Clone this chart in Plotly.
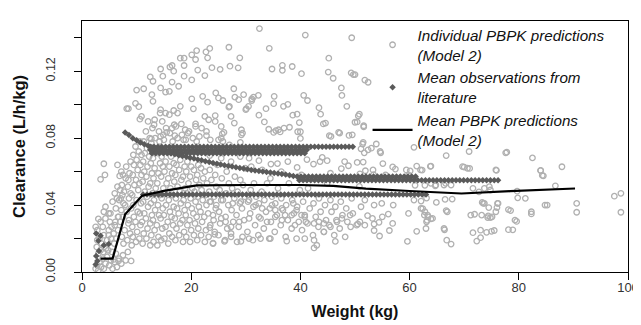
import plotly.graph_objects as go

# ---------------- Individual PBPK predictions (Model 2): (weight kg, clearance L/h/kg)
indiv_left = [(2.5,0.002),(2.8,0.004),(3.0,0.001),(3.2,0.006),(3.5,0.003),(3.8,0.008),(4.0,0.002),(4.3,0.005),
 (4.6,0.009),(5.0,0.004),(5.3,0.007),(5.6,0.002),(6.0,0.006),(6.4,0.003),(6.8,0.008),(7.2,0.005),(3.0,0.011),
 (3.4,0.013),(3.9,0.012),(4.4,0.014),(2.7,0.015),(3.6,0.017),(4.8,0.013),(5.5,0.012),(6.2,0.011),(7.5,0.010),
 (8.4,0.012),(9.0,0.0066),(8.0,0.007),(3.2,0.020),(4.0,0.022),(4.6,0.019),(5.3,0.020),(2.8,0.025),(3.8,0.027),
 (4.9,0.025),(5.8,0.023),(6.3,0.020),(3.4,0.030),(4.3,0.032),(5.1,0.030),(6.0,0.028),(6.6,0.033),(7.0,0.030),
 (4.0,0.036),(5.2,0.035),(6.2,0.038),(7.2,0.037),(4.3,0.039),(5.6,0.042),(6.8,0.043),(7.6,0.041),(4.0,0.0647),
 (6.5,0.064),(3.4,0.0554),(4.2,0.058),(6.9,0.0574),(7.5,0.058),(4.9,0.035),(3.0,0.0317),(2.5,0.027),(6.1,0.030),
 (6.7,0.033),(2.8,0.019),(4.9,0.022),(6.7,0.0066),(5.8,0.0075),(6.0,0.047),(6.5,0.051),(7.0,0.049),
 (5.9,0.017),(6.6,0.025),(7.3,0.021),(5.4,0.027),(6.4,0.044),(7.4,0.046)]

indiv_dense = [
 (7.1,0.044),(7.3,0.052),(7.2,0.060),(7.6,0.017),(7.8,0.025),(7.5,0.033),(7.9,0.040),(7.7,0.048),(8.0,0.056),
 (8.1,0.063),(8.3,0.019),(8.5,0.029),(8.2,0.036),(8.6,0.044),(8.4,0.051),(8.7,0.059),(8.9,0.066),(8.8,0.023),
 (8.6,0.031),(9.0,0.038),(8.9,0.047),(8.5,0.055),
 (9.1,0.016),(9.3,0.021),(9.2,0.027),(9.5,0.033),(9.4,0.040),(9.2,0.046),(9.6,0.052),(9.3,0.058),(9.5,0.064),
 (9.4,0.070),(9.8,0.075),(9.9,0.018),(10.1,0.024),(9.8,0.030),(10.2,0.036),(10.0,0.043),(10.3,0.049),(9.9,0.055),
 (10.2,0.061),(10.0,0.067),(10.4,0.072),(10.6,0.078),(10.5,0.020),(10.7,0.028),(10.6,0.035),(10.8,0.041),
 (10.5,0.053),(10.9,0.058),(10.7,0.064),(10.9,0.070),
 (11.1,0.017),(11.3,0.023),(11.0,0.030),(11.4,0.035),(11.2,0.042),(11.5,0.048),(11.1,0.054),(11.4,0.060),
 (11.2,0.066),(11.5,0.071),(11.3,0.078),(11.7,0.084),(11.8,0.020),(12.0,0.026),(11.7,0.032),(12.1,0.039),
 (11.9,0.045),(12.2,0.051),(11.8,0.057),(12.0,0.063),(12.3,0.069),(11.9,0.074),(12.4,0.080),(12.5,0.016),
 (12.7,0.022),(12.5,0.029),(12.8,0.034),(12.6,0.041),(12.9,0.047),(12.5,0.053),(12.8,0.059),(12.6,0.065),
 (12.9,0.072),(12.7,0.077),(12.9,0.086),
 (13.1,0.018),(13.3,0.025),(13.0,0.031),(13.4,0.037),(13.2,0.043),(13.5,0.050),(13.1,0.056),(13.3,0.062),
 (13.0,0.068),(13.4,0.080),(13.2,0.088),(13.8,0.016),(14.0,0.021),(13.7,0.028),(14.1,0.034),(13.9,0.040),
 (14.2,0.046),(13.8,0.053),(14.0,0.059),(14.3,0.065),(13.9,0.071),(14.2,0.078),(14.1,0.084),(14.5,0.019),
 (14.7,0.026),(14.4,0.032),(14.8,0.038),(14.6,0.044),(14.9,0.050),(14.5,0.057),(14.8,0.063),(14.6,0.069),
 (14.9,0.082),(14.7,0.090),
 (15.1,0.020),(15.3,0.027),(15.0,0.034),(15.4,0.040),(15.2,0.047),(15.5,0.053),(15.1,0.060),(15.3,0.066),
 (15.0,0.079),(15.4,0.086),(15.8,0.017),(16.0,0.023),(15.7,0.030),(16.1,0.036),(15.9,0.043),(16.2,0.050),
 (15.8,0.056),(16.0,0.063),(16.3,0.069),(16.1,0.083),(16.5,0.021),(16.7,0.028),(16.4,0.033),(16.8,0.039),
 (16.6,0.046),(16.9,0.054),(16.5,0.059),(16.8,0.065),(16.6,0.078),(16.9,0.088),
 (17.1,0.019),(17.3,0.026),(17.0,0.032),(17.4,0.038),(17.2,0.044),(17.5,0.051),(17.1,0.058),(17.3,0.064),
 (17.5,0.080),(17.2,0.087),(17.8,0.022),(18.0,0.029),(17.7,0.035),(18.1,0.041),(17.9,0.048),(18.2,0.055),
 (17.8,0.061),(18.0,0.067),(18.3,0.082),(18.5,0.018),(18.7,0.024),(18.4,0.031),(18.8,0.037),(18.6,0.043),
 (18.9,0.050),(18.5,0.057),(18.8,0.063),(18.6,0.079),(18.9,0.085),
 (19.1,0.021),(19.3,0.028),(19.0,0.034),(19.4,0.040),(19.2,0.047),(19.5,0.053),(19.1,0.060),(19.3,0.066),
 (19.4,0.083),(19.8,0.018),(20.0,0.025),(19.7,0.031),(20.1,0.038),(19.9,0.044),(20.2,0.050),(19.8,0.057),
 (20.0,0.063),(20.3,0.080),(20.5,0.022),(20.7,0.029),(20.4,0.035),(20.8,0.042),(20.6,0.048),(20.9,0.055),
 (20.5,0.061),(20.8,0.087),
 (21.1,0.019),(21.3,0.026),(21.0,0.033),(21.4,0.039),(21.2,0.045),(21.5,0.052),(21.1,0.058),(21.3,0.064),
 (21.5,0.081),(21.8,0.022),(22.0,0.030),(21.7,0.036),(22.1,0.043),(21.9,0.049),(22.2,0.056),(21.8,0.062),
 (22.5,0.018),(22.7,0.025),(22.4,0.033),(22.8,0.040),(22.6,0.046),(22.9,0.053),(22.5,0.060),(22.8,0.084),
 (23.2,0.021),(23.5,0.028),(23.1,0.035),(23.6,0.042),(23.3,0.048),(23.7,0.055),(23.4,0.061),(24.0,0.017),
 (24.3,0.024),(24.1,0.031),(24.5,0.038),(24.2,0.045),(24.6,0.051),(24.4,0.058),(24.8,0.064),(25.0,0.022),
 (25.3,0.029),(25.1,0.036),(25.5,0.043),(25.2,0.049),(25.6,0.056),(25.8,0.078),(24.7,0.072),
 (26.2,0.019),(26.6,0.026),(26.3,0.033),(26.8,0.040),(26.4,0.047),(26.9,0.053),(26.5,0.060),(27.3,0.023),
 (27.7,0.030),(27.4,0.037),(27.9,0.044),(27.5,0.050),(28.0,0.057),(28.4,0.018),(28.7,0.027),(28.3,0.034),
 (28.9,0.041),(28.5,0.048),(29.0,0.055),(29.4,0.021),(29.7,0.031),(29.3,0.038),(29.8,0.045),(29.5,0.052),
 (29.9,0.062),
 (30.3,0.024),(30.8,0.035),(30.4,0.042),(30.9,0.049),(31.3,0.019),(31.7,0.028),(31.4,0.039),(31.9,0.045),
 (31.5,0.053),(32.3,0.022),(32.7,0.032),(32.4,0.041),(32.9,0.048),(33.3,0.026),(33.7,0.036),(33.4,0.043),
 (33.9,0.053),(34.3,0.020),(34.6,0.030),(34.4,0.038),(34.8,0.045),(34.5,0.056),
 (35.3,0.024),(35.7,0.034),(35.4,0.041),(35.9,0.050),(36.4,0.028),(36.8,0.037),(36.5,0.044),(37.3,0.021),
 (37.7,0.031),(37.4,0.040),(37.9,0.053),(38.4,0.026),(38.8,0.035),(38.5,0.043),(39.3,0.020),(39.7,0.030),
 (39.4,0.039),(39.9,0.049),
 (40.3,0.025),(40.8,0.034),(40.5,0.042),(41.3,0.029),(41.7,0.038),(41.4,0.050),(42.3,0.022),(42.8,0.033),
 (42.4,0.041),(43.0,0.016),(43.3,0.027),(43.7,0.036),(43.4,0.044),(44.3,0.024),(44.7,0.031),(44.5,0.040),
 (44.9,0.053),(45.3,0.028),(45.7,0.036),(45.5,0.043),(46.2,0.022),(46.6,0.031),(46.4,0.039),(47.2,0.026),
 (47.7,0.034),(47.4,0.042),(48.2,0.021),(48.6,0.030),(48.4,0.038),(49.2,0.027),(49.6,0.035),(49.4,0.044)]

indiv_mid = [
 (23.4,0.0696),(25.5,0.068),(27.3,0.066),(29.0,0.069),(30.6,0.068),(32.4,0.0665),(34.6,0.0645),(35.8,0.0648),
 (37.7,0.066),(39.4,0.0625),(41.2,0.0672),(42.4,0.0645),(43.6,0.066),(44.0,0.0685),(44.9,0.0665),(47.5,0.0618),
 (48.1,0.066),(48.8,0.0635),(50.4,0.0655),(51.9,0.0605),(31.0,0.063),(33.0,0.061),(36.5,0.060),(40.2,0.058),
 (45.5,0.059),
 (23.4,0.042),(24.6,0.040),(25.8,0.043),(27.6,0.041),(29.1,0.042),(30.6,0.043),(31.8,0.040),(33.0,0.038),
 (34.8,0.040),(35.4,0.037),(36.6,0.038),(37.2,0.034),(38.7,0.041),(39.3,0.037),(40.2,0.034),(41.0,0.030),
 (42.5,0.029),(43.4,0.030),(44.3,0.029),(45.5,0.027),(46.7,0.030),(47.6,0.032),(49.1,0.034),(50.9,0.030),
 (50.3,0.028),(24.0,0.034),(25.5,0.032),(26.3,0.030),(27.3,0.027),(28.8,0.030),(30.6,0.032),(32.4,0.033),
 (33.9,0.030),(35.4,0.033),(36.6,0.031),(38.4,0.034),(39.0,0.028),(40.8,0.033),(23.4,0.0265),(24.3,0.0225),
 (24.0,0.0173),(26.1,0.0183),(27.3,0.021),(29.1,0.0183),(30.6,0.020),(32.7,0.020),(34.5,0.020),(37.5,0.0185),
 (40.8,0.020),(42.5,0.019),(42.5,0.0144),(46.4,0.0183),(44.3,0.024)]

indiv_upper = [
 (8.5,0.0976),(9.8,0.1008),(10.4,0.0988),(10.0,0.1087),(11.3,0.1095),(12.5,0.1166),(13.0,0.114),(14.4,0.1213),
 (14.8,0.117),(14.4,0.110),(15.3,0.1075),(16.0,0.108),(16.5,0.1234),(16.1,0.1225),(16.8,0.120),(16.5,0.1135),
 (17.7,0.111),(18.0,0.1278),(18.7,0.1278),(18.7,0.1234),(18.7,0.117),(20.1,0.1298),(21.0,0.1323),(20.8,0.127),
 (20.1,0.1148),(21.2,0.1207),(22.7,0.1315),(23.4,0.1336),(23.0,0.128),(22.5,0.1174),(23.8,0.1221),(25.3,0.1211),
 (26.9,0.1343),(28.9,0.128),(27.1,0.123),(28.6,0.122),(12.8,0.106),(13.0,0.102),(14.4,0.097),(15.3,0.095),
 (16.8,0.0965),(18.0,0.099),(20.1,0.1035),(20.4,0.0975),(22.1,0.105),(23.0,0.1015),(24.5,0.107),(25.0,0.104),
 (25.8,0.1025),(26.9,0.0985),(28.0,0.1045),(28.7,0.103),(29.6,0.106),(30.0,0.097),(31.1,0.1035),(10.9,0.093),
 (14.3,0.095),(16.0,0.094),(17.5,0.095),(24.4,0.0935),
 (32.5,0.1455),(40.9,0.1416),(49.4,0.140),(34.3,0.1337),(45.2,0.1278),(34.8,0.1213),(36.7,0.1235),(36.7,0.1205),
 (38.5,0.1228),(40.2,0.1185),(45.1,0.1195),(46.0,0.1158),(49.3,0.119),(49.7,0.118),(51.8,0.1147),(47.5,0.110),
 (27.8,0.1095),(32.3,0.1056),(31.1,0.1025),(35.2,0.105),(40.6,0.1056),(41.3,0.1025),(36.9,0.099),(30.5,0.099),
 (48.5,0.099),(47.6,0.1055),(52.4,0.1134),(50.0,0.118),(31.4,0.1045),(27.0,0.099),(30.1,0.0976),(33.7,0.0976),
 (35.1,0.1006),(37.7,0.1002),(43.4,0.0982),(27.3,0.093),(32.4,0.0937),(38.6,0.0937),(39.4,0.0943),(43.7,0.0943),
 (50.8,0.0943),(50.4,0.0897),(51.6,0.0867),(25.5,0.087),(27.9,0.089),(29.4,0.083),(33.4,0.0897),(35.1,0.0834),
 (36.0,0.085),(37.0,0.086),(38.0,0.0865),(39.8,0.0893),(40.0,0.0838),(44.6,0.089),(45.6,0.081),(47.2,0.083),
 (48.9,0.0816),(25.5,0.080),(22.8,0.0815),(26.0,0.0834),(40.0,0.0798),(51.4,0.0765),(53.9,0.0765),(54.7,0.0712),
 (51.7,0.0712),(51.1,0.0736),(60.8,0.0745),(23.2,0.091),(24.4,0.090),(22.5,0.093),(44.2,0.0885),(50.0,0.0895),
 (34.2,0.0853),(35.5,0.0845),(36.3,0.0837),(39.5,0.0838),(45.3,0.0815),(47.0,0.0835),(49.5,0.082),(29.2,0.085),
 (29.2,0.082),(25.7,0.0825),(27.0,0.076),(25.0,0.079),(29.0,0.0775),
 (8.2,0.0976),(10.6,0.0913),(12.1,0.090),(13.3,0.091),(12.7,0.0795),(14.4,0.081),(16.5,0.086),(18.2,0.0885),
 (19.6,0.084),(20.8,0.0885),(21.9,0.086),(15.5,0.0835),(17.0,0.0815),(19.0,0.079),(21.0,0.078),(23.5,0.079)]

indiv_right = [
 (50.6,0.0933),(51.6,0.0874),(51.5,0.0775),(52.4,0.073),(53.0,0.074),(54.6,0.072),(66.7,0.0696),(70.9,0.072),
 (77.8,0.0716),(51.5,0.0657),(55.1,0.0648),(56.9,0.0628),(57.4,0.0615),(59.4,0.061),(60.1,0.0604),(62.0,0.061),
 (63.8,0.0631),(69.7,0.063),(70.6,0.062),(75.8,0.061),(53.3,0.061),(50.9,0.0587),(53.4,0.0582),(55.6,0.058),
 (59.8,0.058),(50.8,0.0512),(63.9,0.053),(64.8,0.052),(66.6,0.053),(71.6,0.050),(73.7,0.050),(74.6,0.051),
 (51.8,0.043),(53.5,0.040),(51.1,0.039),(54.9,0.041),(57.0,0.040),(56.1,0.0346),(55.0,0.033),(53.2,0.032),
 (52.3,0.0337),(53.5,0.0287),(51.8,0.028),(50.5,0.0287),(54.4,0.0297),(53.5,0.0248),(54.5,0.0215),(56.3,0.0248),
 (56.9,0.029),(59.8,0.035),(62.1,0.038),(62.7,0.034),(63.4,0.033),(63.1,0.030),(63.9,0.0317),(66.3,0.026),
 (66.9,0.036),(63.0,0.026),(59.6,0.0183),(66.8,0.019),(71.9,0.0345),(73.0,0.025),(73.0,0.0205),(74.4,0.0335),
 (75.1,0.033),(75.8,0.036),(75.5,0.0248),(76.1,0.041),(73.5,0.041),
 (61.3,0.0633),(63.9,0.0633),(62.3,0.0609),(70.0,0.0627),(71.0,0.0619),(75.9,0.0607),(84.0,0.0607),(84.5,0.0575),
 (87.9,0.0629),(61.0,0.0518),(62.8,0.0518),(64.7,0.0515),(66.3,0.052),(67.6,0.052),(72.7,0.0479),(74.8,0.049),
 (79.7,0.0483),(86.7,0.0515),(60.8,0.043),(62.1,0.0424),(63.1,0.0442),(64.9,0.0416),(66.5,0.0434),(67.8,0.0436),
 (73.3,0.0416),(73.7,0.041),(74.5,0.0385),(76.2,0.041),(76.0,0.0385),(78.5,0.0367),(81.2,0.044),(82.3,0.036),
 (85.2,0.040),(90.6,0.041),(90.6,0.0357),(97.5,0.0453),(98.7,0.047),(98.7,0.0357),(62.4,0.0379),(62.8,0.036),
 (63.3,0.034),(64.2,0.032),(63.2,0.0309),(66.7,0.0367),(71.2,0.034),(73.2,0.034),(74.3,0.0325),(74.8,0.0325),
 (79.3,0.031),(61.3,0.0243),(66.4,0.0252),(67.6,0.0167),(71.6,0.0235),(72.3,0.0185),(74.1,0.0237),(75.0,0.0243),
 (78.1,0.0253),(77.6,0.0712),(82.5,0.0682),(84.0,0.0606),(84.3,0.0577),(79.8,0.0443),(78.1,0.0373),(79.6,0.0302),
 (78.9,0.0252),(82.3,0.0347),(84.8,0.040)]

# ---------------- Mean observations from literature
obs_w_long = [12.5,13.2,13.9,14.6,15.3,16.0,16.7,17.4,18.1,18.8,19.5,20.2,20.9,21.6,22.3,23.0,23.7,24.4,25.1,
 25.8,26.5,27.2,27.9,28.6,29.3,30.0,30.7,31.4,32.1,32.8,33.5,34.2,34.9,35.6,36.3,37.0,37.7,38.4,39.1,39.8,40.5,
 41.2,41.9,42.6,43.3,44.0,44.7,45.4,46.1,46.8,47.5,48.2,48.9,49.6]
obs_c_long = 0.0749
obs_w_mid = [12.5,13.2,13.9,14.6,15.3,16.0,16.7,17.4,18.1,18.8,19.5,20.2,20.9,21.6,22.3,23.0,23.7,24.4,25.1,
 25.8,26.5,27.2,27.9,28.6,29.3,30.0,30.7,31.4,32.1,32.8,33.5,34.2,34.9,35.6,36.3,37.0,37.7,38.4,39.1,39.8,40.5,41.2]
obs_c_mid_a = 0.0731
obs_w_mid_b = [12.8,13.5,14.2,14.9,15.6,16.3,17.0,17.7,18.4,19.1,19.8,20.5,21.2,21.9,22.6,23.3,24.0,24.7,25.4,
 26.1,26.8,27.5,28.2,28.9,29.6,30.3,31.0,31.7,32.4,33.1,33.8,34.5,35.2,35.9,36.6,37.3,38.0,38.7,39.4,40.1,40.8]
obs_c_mid_b = 0.0710
obs_w_diag = [7.9,8.6,9.3,10.0,10.7,11.4,12.1,12.8,13.5,14.2,14.9,15.6,16.3,17.0,17.7,18.4,19.1,19.8,20.5,21.2,
 21.9,22.6,23.3,24.0,24.7,25.4,26.1,26.8,27.5,28.2,28.9,29.6,30.3,31.0,31.7,32.4,33.1,33.8,34.5,35.2,35.9,36.6,
 37.3,38.0,38.7]
obs_c_diag = [0.0834,0.0818,0.0800,0.0787,0.0774,0.0764,0.0755,0.0746,0.0738,0.0730,0.0723,0.0716,0.0710,0.0704,
 0.0698,0.0693,0.0688,0.0683,0.0678,0.0673,0.0668,0.0662,0.0657,0.0652,0.0647,0.0642,0.0638,0.0634,0.0630,0.0626,
 0.0622,0.0618,0.0614,0.0610,0.0606,0.0603,0.0600,0.0597,0.0594,0.0591,0.0588,0.0585,0.0582,0.0578,0.0574]
obs_w_band_hi = [39.4,40.1,40.8,41.5,42.2,42.9,43.6,44.3,45.0,45.7,46.4,47.1,47.8,48.5,49.2,49.9,50.6,51.3,52.0,
 52.7,53.4,54.1,54.8,55.5,56.2,56.9,57.6,58.3,59.0,59.7,60.4,61.1]
obs_c_band_hi = 0.0570
obs_w_band_lo = [39.8,40.5,41.2,41.9,42.6,43.3,44.0,44.7,45.4,46.1,46.8,47.5,48.2,48.9,49.6,50.3,51.0,51.7,52.4,
 53.1,53.8,54.5,55.2,55.9,56.6,57.3,58.0,58.7,59.4,60.1,60.8,61.5,62.2,62.9,63.6,64.3,65.0,65.7,66.4,67.1,67.8,
 68.5,69.2,69.9,70.6,71.3,72.0,72.7,73.4,74.1,74.8,75.5,76.2]
obs_c_band_lo = 0.0548
obs_w_low_row = [11.2,11.9,12.6,13.3,14.0,14.7,15.4,16.1,16.8,17.5,18.2,18.9,19.6,20.3,21.0,21.7,22.4,23.1,23.8,
 24.5,25.2,25.9,26.6,27.3,28.0,28.7,29.4,30.1,30.8,31.5,32.2,32.9,33.6,34.3,35.0,35.7,36.4,37.1,37.8,38.5,39.2,
 39.9,40.6,41.3,42.0,42.7,43.4,44.1,44.8,45.5,46.2,46.9,47.6,48.3,49.0,49.7,50.4,51.1,51.8,52.5,53.2,53.9,54.6,
 55.3,56.0,56.7,57.4,58.1,58.8,59.5,60.2,60.9,61.6,62.3,63.0]
obs_c_low_row = 0.0463
obs_w_infant = [2.6, 3.4, 3.0, 4.0, 4.9, 2.6, 2.5, 2.8, 3.1]
obs_c_infant = [0.023, 0.0217, 0.0187, 0.016, 0.0168, 0.0095, 0.0045, 0.0065, 0.0125]

# ---------------- Mean PBPK predictions (Model 2)
mean_w = [3.4, 5.6, 7.9, 11.0, 15.0, 21.0, 30.0, 40.0, 46.0, 52.0, 60.0, 69.5, 78.4, 90.3]
mean_c = [0.008, 0.008, 0.0345, 0.0456, 0.0485, 0.0518, 0.0520, 0.0520, 0.0515, 0.0498, 0.0484, 0.0469, 0.0483, 0.0499]

# ---------------- assemble
ind = indiv_left + indiv_dense + indiv_mid + indiv_upper + indiv_right
ind_w = [p[0] for p in ind]
ind_c = [p[1] for p in ind]

obs_w = (obs_w_long + obs_w_mid + obs_w_mid_b + obs_w_diag + obs_w_band_hi + obs_w_band_lo
         + obs_w_low_row + obs_w_infant)
obs_c = ([obs_c_long] * len(obs_w_long) + [obs_c_mid_a] * len(obs_w_mid) + [obs_c_mid_b] * len(obs_w_mid_b)
         + obs_c_diag + [obs_c_band_hi] * len(obs_w_band_hi) + [obs_c_band_lo] * len(obs_w_band_lo)
         + [obs_c_low_row] * len(obs_w_low_row) + obs_c_infant)

FONT = "Liberation Sans, Arial, sans-serif"

fig = go.Figure()
fig.add_trace(go.Scatter(
    x=ind_w, y=ind_c, mode="markers",
    name="<i>Individual PBPK predictions<br>(Model 2)</i>",
    marker=dict(symbol="circle-open", size=5.5, color="#b0b0b0", line=dict(width=1.3, color="#b0b0b0")),
))
fig.add_trace(go.Scatter(
    x=obs_w, y=obs_c, mode="markers",
    name="<i>Mean observations from<br>literature</i>",
    marker=dict(symbol="diamond", size=5, color="#5a5a5a", line=dict(width=0)),
))
fig.add_trace(go.Scatter(
    x=mean_w, y=mean_c, mode="lines",
    name="<i>Mean PBPK predictions<br>(Model 2)</i>",
    line=dict(color="black", width=2.2),
))

y_ticks = [0, 0.02, 0.04, 0.06, 0.08, 0.10, 0.12, 0.14]
y_text = ["0.00", "", "0.04", "", "0.08", "", "0.12", ""]
x_ticks = [0, 20, 40, 60, 80, 100]

fig.update_layout(
    width=641, height=325,
    margin=dict(l=73, r=10, t=10, b=61),
    paper_bgcolor="white", plot_bgcolor="white",
    font=dict(family=FONT, color="#222222", size=12),
    showlegend=True,
    legend=dict(
        x=0.523, y=1.01, xanchor="left", yanchor="top",
        bgcolor="rgba(0,0,0,0)", borderwidth=0,
        font=dict(family=FONT, size=15.2, color="#111111"),
        valign="middle", itemwidth=40, tracegroupgap=0,
    ),
    xaxis=dict(
        range=[0, 100], tickvals=x_ticks, ticktext=[str(v) for v in x_ticks],
        showgrid=False, zeroline=False, showline=True, linecolor="black", linewidth=1.3, mirror=True,
        ticks="outside", ticklen=7, tickwidth=1.3, tickcolor="black",
        tickfont=dict(size=13, color="#333333"), ticklabeloverflow="allow", ticklabelstandoff=-4,
        title=dict(text="<b>Weight (kg)</b>", font=dict(size=16, color="#111111"), standoff=12),
    ),
    yaxis=dict(
        range=[0, 0.15], tickvals=y_ticks, ticktext=y_text, tickangle=-90,
        showgrid=False, zeroline=False, showline=True, linecolor="black", linewidth=1.3, mirror=True,
        ticks="outside", ticklen=7, tickwidth=1.3, tickcolor="black",
        tickfont=dict(size=12.5, color="#333333"), ticklabelstandoff=14,
        title=dict(text="<b>Clearance (L/h/kg)</b>", font=dict(size=16.5, color="#111111"), standoff=14),
    ),
)

fig.write_html("out.html")
